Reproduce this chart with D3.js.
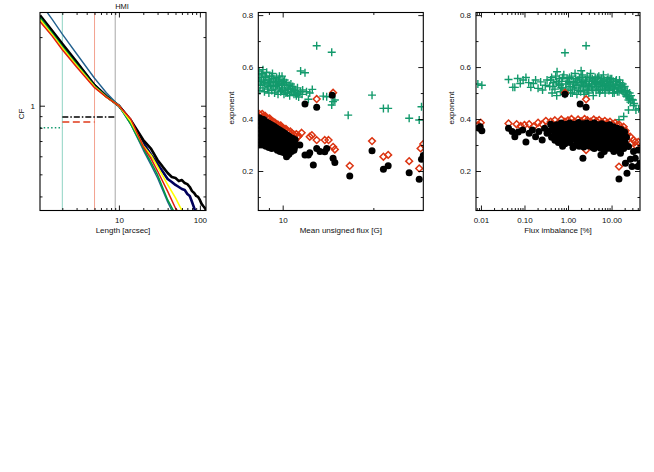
<!DOCTYPE html>
<html><head><meta charset="utf-8">
<script src="https://cdn.jsdelivr.net/npm/d3@7"></script>
<style>body{margin:0;background:#fff}svg{display:block}</style>
</head><body>
<svg id="c" width="654" height="472"></svg>
<script>
// ---------------- DATA ----------------
// Panel 1: CF vs Length (arcsec)
const lenCommon = [1.06, 1.5, 2, 3, 5, 7, 10, 14, 20, 25, 30, 40, 50, 60, 70];
const cfBlue   = [2.84, 2.39, 2.06, 1.69, 1.32, 1.14, 1.00, 0.829, 0.639, 0.549, 0.482, 0.378, 0.322];
const cfGreen  = [2.44, 2.08, 1.82, 1.52, 1.22, 1.10, 1.00, 0.831, 0.652, 0.563, 0.497, 0.386, 0.333];
const cfYellow = [2.39, 2.05, 1.79, 1.50, 1.21, 1.09, 1.00, 0.852, 0.668, 0.605, 0.541, 0.451, 0.394, 0.347, 0.32];
const cfRed    = [2.34, 2.02, 1.76, 1.48, 1.20, 1.09, 1.00, 0.874, 0.662, 0.584, 0.517, 0.421, 0.355, 0.325];
const lenBlack = [1.06, 1.5, 2, 3, 5, 7, 10, 14, 20, 25, 30, 35, 40, 45, 50, 55, 60, 65, 70, 75, 80, 85, 90, 95, 100, 105, 110, 115, 119];
const cfBlack  = [2.49, 2.13, 1.87, 1.56, 1.23, 1.10, 1.00, 0.865, 0.707, 0.646, 0.578, 0.538, 0.507, 0.487, 0.482, 0.467, 0.472, 0.458, 0.453, 0.440, 0.422, 0.414, 0.402, 0.398, 0.386, 0.371, 0.363, 0.356, 0.349];
const lenNavy  = [1.06, 1.5, 2, 3, 5, 7, 10, 14, 20, 25, 30, 35, 40, 45, 50, 55, 60, 65, 70, 75, 80, 85, 90];
const cfNavy   = [2.46, 2.11, 1.84, 1.54, 1.23, 1.10, 1.00, 0.857, 0.686, 0.608, 0.555, 0.512, 0.477, 0.463, 0.449, 0.440, 0.431, 0.427, 0.410, 0.402, 0.378, 0.356, 0.335];
const refLengths = [2, 5, 9];
const refLevels  = [[1.06, 2, 0.80], [2, 5, 0.848], [2, 9, 0.893]];   // [from, to, CF]

// Panel 2: exponent vs mean unsigned flux [G]  ([flux, exponent])
const fluxGreen = [[8.35,0.585],[8.4,0.56],[8.45,0.53],[8.4,0.51],[8.5,0.545],[8.55,0.575],[8.6,0.52],[8.65,0.55],[8.7,0.505],[8.75,0.565],[8.8,0.535],[8.85,0.58],[8.9,0.515],[8.95,0.55],[9.0,0.5],[9.05,0.565],[9.1,0.53],[9.15,0.545],[9.2,0.51],[9.25,0.575],[9.3,0.525],[9.35,0.555],[9.4,0.5],[9.45,0.54],[9.5,0.515],[9.55,0.56],[9.6,0.53],[9.65,0.495],[9.7,0.545],[9.75,0.52],[9.8,0.55],[9.85,0.505],[9.9,0.535],[9.95,0.565],[10.0,0.515],[10.05,0.545],[10.1,0.495],[10.15,0.53],[10.2,0.51],[10.3,0.54],[10.35,0.52],[10.4,0.5],[10.5,0.53],[10.55,0.49],[10.6,0.515],[10.7,0.505],[10.8,0.525],[10.9,0.495],[11.0,0.51],[11.1,0.49],[11.2,0.5],[11.3,0.485],[11.45,0.505],[11.6,0.495],
  [8.35,0.545],[8.5,0.57],[8.6,0.59],[8.7,0.54],[8.8,0.56],[8.95,0.525],[9.05,0.54],[9.2,0.565],[9.3,0.545],[9.45,0.525],[9.55,0.54],[9.75,0.565],[9.9,0.51],[10.0,0.535],[10.15,0.55],[10.25,0.5],[10.45,0.515],[10.65,0.535],[10.9,0.515],[11.2,0.52],[11.05,0.5],
  [11.47,0.585],[11.86,0.578],[11.65,0.512],[12.54,0.514],[12.3,0.5],[12.17,0.476],[12.0,0.505],[12.97,0.682],[14.55,0.657],[13.64,0.488],[14.0,0.486],[14.7,0.467],[14.55,0.454],[14.9,0.473],[16.5,0.415],[19.8,0.492],[21.6,0.441],[22.4,0.441],[26.3,0.403],[28.4,0.396],[28.9,0.447]];
const fluxRed = [[8.35,0.42],[8.45,0.415],[8.55,0.42],[8.65,0.41],[8.75,0.412],[8.85,0.405],[8.95,0.4],[9.05,0.402],[9.15,0.395],[9.25,0.392],[9.35,0.388],[9.45,0.385],[9.55,0.38],[9.65,0.378],[9.75,0.372],[9.85,0.375],[9.95,0.368],[10.05,0.365],[10.15,0.36],[10.25,0.362],[10.35,0.355],[10.45,0.35],[10.6,0.352],[10.75,0.345],[10.9,0.34],[11.1,0.342],[11.3,0.335],[8.4,0.39],[8.6,0.385],[8.8,0.375],[9.0,0.37],[9.2,0.36],[9.4,0.355],[9.6,0.35],[9.8,0.345],[10.0,0.34],[10.2,0.335],[10.4,0.33],[10.6,0.325],[10.8,0.32],[11.0,0.318],[11.2,0.33],[11.56,0.347],[12.3,0.332],[12.5,0.338],[12.97,0.319],[13.8,0.319],[14.2,0.319],[14.7,0.293],[14.9,0.283],[16.7,0.22],[19.8,0.315],[21.6,0.255],[22.4,0.262],[26.3,0.238],[28.4,0.21],[28.7,0.287],[29.3,0.304],[14.7,0.501],[12.97,0.477]];
const fluxBlack = [[8.35,0.405],[8.5,0.4],[8.65,0.398],[8.8,0.39],[8.95,0.385],[9.1,0.38],[9.25,0.375],[9.4,0.37],[9.55,0.365],[9.7,0.36],[9.85,0.355],[10.0,0.35],[10.15,0.345],[10.3,0.34],[10.45,0.335],[10.6,0.33],[10.8,0.325],[11.0,0.32],[8.4,0.375],[8.6,0.37],[8.8,0.365],[9.0,0.36],[9.2,0.355],[9.4,0.35],[9.6,0.345],[9.8,0.34],[10.0,0.33],[10.2,0.325],[10.4,0.32],[10.6,0.31],[10.8,0.305],[11.0,0.3],[8.4,0.345],[8.6,0.34],[8.8,0.335],[9.0,0.33],[9.2,0.325],[9.4,0.32],[9.6,0.315],[9.8,0.31],[10.0,0.305],[10.2,0.3],[10.4,0.295],[10.6,0.285],[10.9,0.28],[8.35,0.3],[8.5,0.315],[8.7,0.31],[8.9,0.305],[9.1,0.3],[9.3,0.298],[9.5,0.295],[9.7,0.29],[9.9,0.285],[10.1,0.28],[10.3,0.255],[10.35,0.27],[10.5,0.265],
  [8.45,0.39],[8.7,0.385],[8.9,0.37],[9.15,0.368],[9.35,0.362],[9.55,0.355],[9.75,0.35],[9.95,0.342],[10.1,0.335],[10.3,0.33],[10.5,0.322],[10.7,0.315],[10.9,0.31],
  [8.45,0.36],[8.7,0.355],[8.9,0.35],[9.1,0.345],[9.3,0.338],[9.5,0.335],[9.7,0.328],[9.9,0.322],[10.1,0.318],[10.3,0.31],[10.5,0.305],[10.7,0.298],[10.95,0.29],
  [8.45,0.33],[8.65,0.325],[8.85,0.32],[9.05,0.315],[9.25,0.312],[9.45,0.308],[9.65,0.305],[9.85,0.298],[10.05,0.295],[10.25,0.29],[10.45,0.285],[10.7,0.275],
  [8.55,0.3],[8.8,0.295],[9.0,0.29],[9.2,0.287],[9.6,0.28],[9.8,0.275],[10.0,0.272],[10.2,0.268],[10.4,0.262],
  [11.4,0.3],[11.86,0.458],[12.97,0.445],[14.6,0.492],[11.86,0.262],[12.17,0.262],[12.3,0.27],[12.64,0.223],[12.97,0.287],[13.3,0.275],[13.8,0.274],[14.0,0.287],[14.7,0.249],[14.9,0.233],[16.7,0.181],[19.8,0.278],[21.6,0.207],[22.4,0.22],[26.3,0.193],[28.4,0.168],[28.9,0.245],[29.3,0.26]];

// Panel 3: exponent vs flux imbalance [%]  ([imbalance, exponent])
const imbGreen = [[0.0085,0.535],[0.0105,0.53],[0.043,0.552],[0.054,0.522],[0.06,0.522],[0.07,0.556],[0.08,0.537],[0.093,0.55],[0.108,0.56],[0.125,0.54],[0.14,0.522],[0.16,0.537],[0.18,0.55],[0.205,0.518],[0.235,0.543],[0.26,0.512],[0.30,0.53],[0.33,0.55],[0.38,0.525],[0.4,0.55],[0.43,0.5],[0.46,0.54],[0.5,0.515],[0.52,0.565],[0.55,0.49],[0.6,0.535],[0.63,0.555],[0.67,0.505],[0.72,0.545],[0.76,0.52],[0.8,0.57],[0.85,0.495],[0.9,0.535],[0.95,0.555],[1.0,0.51],[1.05,0.54],[1.12,0.525],[1.2,0.565],[1.25,0.5],[1.32,0.545],[1.4,0.515],[1.45,0.575],[1.52,0.53],[1.6,0.495],[1.7,0.55],[1.78,0.52],[1.85,0.56],[1.95,0.505],[2.05,0.54],[2.15,0.57],[2.25,0.525],[2.35,0.495],[2.5,0.55],[2.6,0.515],[2.75,0.565],[2.9,0.53],[3.0,0.5],[3.15,0.545],[3.3,0.575],[3.45,0.52],[3.6,0.555],[3.8,0.49],[4.0,0.535],[4.2,0.56],[4.4,0.51],[4.6,0.545],[4.85,0.525],[5.1,0.565],[5.3,0.5],[5.6,0.54],[5.9,0.555],[6.2,0.515],[6.5,0.57],[6.8,0.53],[7.1,0.5],[7.5,0.545],[7.9,0.52],[8.3,0.56],[8.7,0.51],[9.1,0.54],[9.6,0.525],[10.1,0.555],[10.6,0.5],[11.2,0.535],[11.8,0.515],[12.5,0.545],[13.2,0.52],[14,0.53],[14.8,0.505],[15.6,0.54],[16.5,0.515],[17.4,0.525],[18.4,0.5],[19.4,0.52],[20.5,0.51],[21.6,0.495],[22.8,0.505],[0.45,0.525],[0.7,0.52],[0.98,0.545],[1.35,0.535],[1.75,0.51],[2.2,0.545],[2.8,0.51],[3.5,0.535],[4.3,0.54],[5.0,0.515],[6.0,0.535],[7.3,0.525],[9.0,0.515],[11.0,0.52],[13.6,0.505],[16.0,0.53],
  [0.42,0.56],[0.55,0.545],[0.65,0.53],[0.75,0.56],[0.88,0.515],[1.08,0.56],[1.15,0.5],[1.28,0.52],[1.5,0.555],[1.62,0.54],[1.9,0.53],[2.0,0.56],[2.3,0.51],[2.45,0.535],[2.65,0.545],[3.05,0.525],[3.2,0.56],[3.7,0.515],[3.95,0.55],[4.5,0.525],[4.75,0.56],[5.2,0.535],[5.5,0.51],[6.3,0.545],[6.7,0.55],[7.0,0.515],[7.7,0.535],[8.0,0.55],[8.5,0.525],[9.3,0.555],[10.3,0.53],[10.9,0.545],[11.5,0.5],[12.2,0.53],[12.9,0.55],[14.4,0.52],[15.2,0.55],[17,0.51],[18,0.535],[20,0.525],[21,0.505],[23.5,0.49],[25.5,0.48],[27,0.465],[29.5,0.475],[33,0.46],[26,0.5],
  [22.6,0.486],[24.5,0.473],[28,0.49],[31,0.473],[14.8,0.397],[19,0.41],[24.5,0.435],[32,0.452],[36.3,0.435],[42,0.44],[0.85,0.655],[2.6,0.682],[2.0,0.586],[0.56,0.582]];
const imbRed = [[0.0087,0.377],[0.0099,0.386],[0.043,0.383],[0.066,0.38],[0.082,0.373],[0.1,0.377],[0.128,0.38],[0.163,0.371],[0.205,0.386],[0.255,0.38],[0.31,0.393],[0.4,0.39],[0.5,0.395],[0.6,0.385],[0.7,0.398],[0.85,0.39],[1.0,0.395],[1.2,0.4],[1.4,0.39],[1.7,0.398],[2.0,0.392],[2.4,0.4],[2.8,0.395],[3.3,0.39],[3.9,0.398],[4.5,0.392],[5.2,0.396],[6,0.388],[7,0.393],[8,0.385],[9.2,0.39],[10.5,0.38],[12,0.385],[13.5,0.375],[15,0.378],[17,0.365],[19,0.37],[21,0.355],[0.45,0.36],[0.8,0.355],[1.3,0.36],[2.2,0.355],[3.6,0.36],[6.5,0.355],[11,0.35],[16,0.34],[22.6,0.339],[26.9,0.332],[32,0.319],[35,0.312],[38,0.294],[41,0.312],[45,0.287],[28,0.306],[14.8,0.217],[2.6,0.281],[11.3,0.294],[19,0.306],[0.85,0.501],[2.6,0.476]];
const imbBlack = [[0.0088,0.365],[0.0105,0.355],[0.0096,0.37],[0.043,0.365],[0.052,0.352],[0.06,0.332],[0.072,0.35],[0.091,0.358],[0.108,0.312],[0.128,0.345],[0.152,0.358],[0.18,0.332],[0.214,0.352],[0.255,0.319],[0.29,0.365],[0.33,0.345],[0.4,0.38],[0.55,0.378],[0.7,0.385],[0.9,0.38],[1.1,0.385],[1.4,0.38],[1.75,0.387],[2.2,0.382],[2.7,0.385],[3.3,0.38],[4.0,0.385],[4.9,0.378],[6,0.382],[7.3,0.375],[9,0.378],[11,0.37],[13.5,0.365],[16.5,0.36],[20,0.35],[0.38,0.355],[0.48,0.36],[0.62,0.35],[0.8,0.36],[1.0,0.355],[1.25,0.362],[1.55,0.352],[1.95,0.36],[2.45,0.355],[3.0,0.362],[3.7,0.352],[4.5,0.36],[5.5,0.355],[6.7,0.36],[8.2,0.35],[10,0.355],[12.2,0.345],[15,0.342],[18,0.335],[22,0.33],[0.42,0.33],[0.55,0.335],[0.72,0.328],[0.92,0.335],[1.15,0.33],[1.45,0.335],[1.8,0.328],[2.3,0.335],[2.85,0.33],[3.5,0.335],[4.3,0.328],[5.2,0.333],[6.4,0.328],[7.8,0.335],[9.5,0.325],[11.6,0.33],[14,0.32],[17,0.315],[20.5,0.31],[0.6,0.31],[0.85,0.305],[1.1,0.31],[1.5,0.3],[2.0,0.31],[2.6,0.302],[3.3,0.31],[4.1,0.3],[5.0,0.308],[6.2,0.3],[7.6,0.305],[9.3,0.298],[11.5,0.3],[14,0.295],
  [0.45,0.368],[0.6,0.37],[0.78,0.365],[0.98,0.37],[1.2,0.368],[1.5,0.372],[1.85,0.366],[2.3,0.37],[2.9,0.368],[3.5,0.372],[4.3,0.366],[5.2,0.37],[6.3,0.366],[7.7,0.368],[9.5,0.364],[11.8,0.36],[14.5,0.355],[18,0.35],
  [0.5,0.345],[0.66,0.342],[0.85,0.345],[1.05,0.34],[1.35,0.345],[1.7,0.34],[2.1,0.345],[2.6,0.342],[3.2,0.345],[3.9,0.34],[4.8,0.345],[5.9,0.34],[7.2,0.344],[8.8,0.34],[10.8,0.338],[13.2,0.332],[16,0.328],[19.5,0.322],
  [0.5,0.318],[0.68,0.32],[0.95,0.318],[1.25,0.322],[1.65,0.316],[2.15,0.32],[2.75,0.318],[3.4,0.322],[4.2,0.316],[5.1,0.32],[6.3,0.316],[7.7,0.32],[9.4,0.312],[11.5,0.315],[14,0.308],[17.5,0.305],
  [0.75,0.295],[1.3,0.29],[1.8,0.295],[2.3,0.292],[3.0,0.296],[3.7,0.29],[4.6,0.293],[5.6,0.288],[6.9,0.292],[8.5,0.288],[10.5,0.285],[12.8,0.283],[16,0.28],
  [2.2,0.249],[5.7,0.262],[6.8,0.275],[4.0,0.287],[11.3,0.275],[16,0.268],[14.8,0.169],[22.6,0.191],[29.5,0.217],[20.8,0.23],[27,0.245],[35,0.249],[40,0.217],[45,0.23],[32,0.275],[24.5,0.294],[41,0.281],[19,0.287],[0.85,0.495],[1.9,0.458],[2.6,0.445]];

// tick values / labels
const p1xMajor = [10, 100], p1xMinor = [2,3,4,5,6,7,8,9,20,30,40,50,60,70,80,90];
const p1yMajor = [1], p1yMinor = [0.4,0.5,0.6,0.7,0.8,0.9,2];
const p2xMajor = [10], p2xMinor = [9, 20];
const expMajor = [0.2,0.4,0.6,0.8], expMinor = [0.1,0.3,0.5,0.7];
const p3xMajor = [0.01,0.1,1,10], p3xMinor = [0.008,0.009,0.02,0.03,0.04,0.05,0.06,0.07,0.08,0.09,0.2,0.3,0.4,0.5,0.6,0.7,0.8,0.9,2,3,4,5,6,7,8,9,20,30,40];

// ---------------- DRAW ----------------
const svg = d3.select("#c");
const FONT = "'Liberation Sans', Arial, Helvetica, sans-serif";
const TOP = 12.5, BOT = 210.5;

function axes(g, x, y, o) {
  const x0 = x.range()[0], x1 = x.range()[1];
  const clean = s => { s.select(".domain").remove(); s.attr("font-family", FONT).attr("font-size", 8);
    s.selectAll("line").attr("stroke", "#000").attr("stroke-width", 0.9);
    s.selectAll("text").attr("fill", "#111"); };
  g.append("g").attr("transform", `translate(0,${BOT})`)
    .call(d3.axisBottom(x).tickValues(o.xMajor).tickSize(-5).tickPadding(6.5).tickFormat(o.xFmt)).call(clean);
  g.append("g").attr("transform", `translate(0,${BOT})`)
    .call(d3.axisBottom(x).tickValues(o.xMinor).tickSize(-2.5).tickFormat("")).call(clean);
  g.append("g").attr("transform", `translate(0,${TOP})`)
    .call(d3.axisTop(x).tickValues(o.xMajor).tickSize(-5).tickFormat("")).call(clean);
  g.append("g").attr("transform", `translate(0,${TOP})`)
    .call(d3.axisTop(x).tickValues(o.xMinor).tickSize(-2.5).tickFormat("")).call(clean);
  g.append("g").attr("transform", `translate(${x0},0)`)
    .call(d3.axisLeft(y).tickValues(o.yMajor).tickSize(-5).tickPadding(5).tickFormat(o.yFmt)).call(clean);
  g.append("g").attr("transform", `translate(${x0},0)`)
    .call(d3.axisLeft(y).tickValues(o.yMinor).tickSize(-2.5).tickFormat("")).call(clean);
  g.append("g").attr("transform", `translate(${x1},0)`)
    .call(d3.axisRight(y).tickValues(o.yMajor).tickSize(-5).tickFormat("")).call(clean);
  g.append("g").attr("transform", `translate(${x1},0)`)
    .call(d3.axisRight(y).tickValues(o.yMinor).tickSize(-2.5).tickFormat("")).call(clean);
  g.append("rect").attr("x", x0).attr("y", TOP).attr("width", x1 - x0).attr("height", BOT - TOP)
    .attr("fill", "none").attr("stroke", "#000").attr("stroke-width", 1.1);
  g.append("text").attr("x", (x0 + x1) / 2).attr("y", 233).attr("text-anchor", "middle")
    .attr("font-family", FONT).attr("font-size", 8).attr("fill", "#111").text(o.xLabel);
  g.append("text").attr("transform", `translate(${o.yLabelX},${o.yLabelY}) rotate(-90)`).attr("dy", "0.35em")
    .attr("text-anchor", "middle").attr("font-family", FONT).attr("font-size", 8).attr("fill", "#111").text(o.yLabel);
}

function clip(id, x, y) {
  svg.append("clipPath").attr("id", id).append("rect")
    .attr("x", x.range()[0]).attr("y", TOP).attr("width", x.range()[1] - x.range()[0]).attr("height", BOT - TOP);
  return svg.append("g").attr("clip-path", `url(#${id})`);
}

// ---- Panel 1
{
  const x = d3.scaleLog().domain([1.06, 119]).range([40, 206]);
  const y = d3.scaleLog().domain([0.347, 2.564]).range([BOT, TOP]);
  const g = clip("cp1", x, y);
  const refCols = ["#8fd3c3", "#f3a28f", "#a8a8a8"];
  g.selectAll(".ref").data(refLengths).join("line")
    .attr("x1", d => x(d)).attr("x2", d => x(d)).attr("y1", TOP).attr("y2", BOT)
    .attr("stroke", (d, i) => refCols[i]).attr("stroke-width", 1);
  const lvlStyle = [["#169c70", "1.5,2.2", 1.6], ["#e03a1a", "7,3.5", 1.6], ["#000", "6,2,1.5,2", 1.5]];
  g.selectAll(".lvl").data(refLevels).join("line")
    .attr("x1", d => x(d[0])).attr("x2", d => x(d[1])).attr("y1", d => y(d[2])).attr("y2", d => y(d[2]))
    .attr("stroke", (d, i) => lvlStyle[i][0]).attr("stroke-dasharray", (d, i) => lvlStyle[i][1])
    .attr("stroke-width", (d, i) => lvlStyle[i][2]);
  const line = d3.line().x(d => x(d[0])).y(d => y(d[1]));
  const zip = (L, C) => C.map((c, i) => [L[i], c]);
  const series = [
    [lenNavy, cfNavy, "#00005c", 2.6],
    [lenBlack, cfBlack, "#000", 2.6],
    [lenCommon, cfBlue, "#22608e", 1.4],
    [lenCommon, cfGreen, "#009a40", 1.6],
    [lenCommon, cfYellow, "#ffff00", 1.6],
    [lenCommon, cfRed, "#e02010", 1.5]
  ];
  series.forEach(s => g.append("path").attr("d", line(zip(s[0], s[1])))
    .attr("fill", "none").attr("stroke", s[2]).attr("stroke-width", s[3]).attr("stroke-linejoin", "round"));
  const ga = svg.append("g");
  axes(ga, x, y, { xMajor: p1xMajor, xMinor: p1xMinor, xFmt: d3.format("d"),
    yMajor: p1yMajor, yMinor: p1yMinor, yFmt: d3.format("d"),
    xLabel: "Length [arcsec]", yLabel: "CF", yLabelX: 21.5, yLabelY: 114 });
  ga.append("text").attr("x", 122).attr("y", 8.8).attr("text-anchor", "middle")
    .attr("font-family", FONT).attr("font-size", 7.5).attr("fill", "#111").text("HMI");
}

function scatter(g, x, y, green, red, black) {
  g.selectAll(".gp").data(green).join("path")
    .attr("transform", d => `translate(${x(d[0])},${y(d[1])})`)
    .attr("d", "M-4,0H4M0,-4V4").attr("stroke", "#139a6c").attr("stroke-width", 1.4).attr("fill", "none");
  g.selectAll(".rd").data(red).join("path")
    .attr("transform", d => `translate(${x(d[0])},${y(d[1])})`)
    .attr("d", "M0,-3.4L3.4,0L0,3.4L-3.4,0Z").attr("stroke", "#dc3512").attr("stroke-width", 1.5).attr("fill", "none");
  g.selectAll(".bc").data(black).join("circle")
    .attr("cx", d => x(d[0])).attr("cy", d => y(d[1])).attr("r", 3.5).attr("fill", "#000");
}

// ---- Panel 2
{
  const x = d3.scaleLog().domain([8.3, 29.3]).range([258.3, 423.3]);
  const y = d3.scaleLinear().domain([0.048, 0.81]).range([BOT, TOP]);
  const g = clip("cp2", x, y);
  scatter(g, x, y, fluxGreen, fluxRed, fluxBlack);
  axes(svg.append("g"), x, y, { xMajor: p2xMajor, xMinor: p2xMinor, xFmt: d3.format("d"),
    yMajor: expMajor, yMinor: expMinor, yFmt: d3.format(".1f"),
    xLabel: "Mean unsigned flux [G]", yLabel: "exponent", yLabelX: 231.5, yLabelY: 108 });
}

// ---- Panel 3
{
  const x = d3.scaleLog().domain([0.0077, 45]).range([476, 640]);
  const y = d3.scaleLinear().domain([0.048, 0.81]).range([BOT, TOP]);
  const g = clip("cp3", x, y);
  scatter(g, x, y, imbGreen, imbRed, imbBlack);
  axes(svg.append("g"), x, y, { xMajor: p3xMajor, xMinor: p3xMinor, xFmt: d => d.toFixed(2),
    yMajor: expMajor, yMinor: expMinor, yFmt: d3.format(".1f"),
    xLabel: "Flux imbalance [%]", yLabel: "exponent", yLabelX: 451.5, yLabelY: 108 });
}
</script>
</body></html>
